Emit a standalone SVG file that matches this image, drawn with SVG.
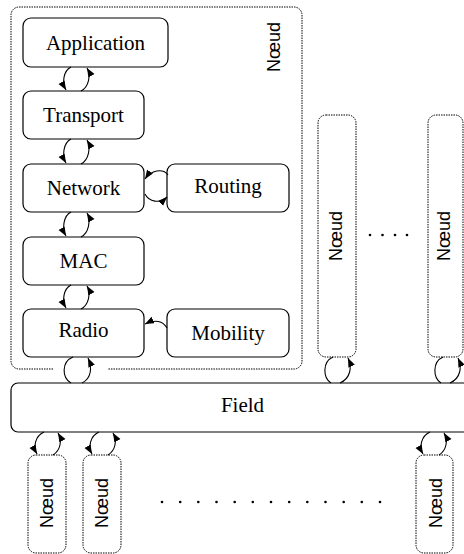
<svg xmlns="http://www.w3.org/2000/svg" width="464" height="554" viewBox="0 0 464 554">
<defs>
<marker id="ah" markerUnits="userSpaceOnUse" markerWidth="10" markerHeight="8" refX="9" refY="3.5" orient="auto">
<path d="M0,0 L9,3.5 L0,7 z" fill="#000"/>
</marker>
<style>
.box{fill:#fff;stroke:#000;stroke-width:1.2}
.dot{fill:none;stroke:#000;stroke-width:1;stroke-dasharray:1.5 1}
.lbl{font-family:'Liberation Serif','Times New Roman','DejaVu Serif',serif;font-size:21px;fill:#000;text-anchor:middle}
.nd{font-family:'Liberation Sans',Arial,sans-serif;font-size:18px;fill:#000;text-anchor:middle}
.c{fill:none;stroke:#000;stroke-width:1.1}
.a{marker-end:url(#ah)}
</style>
</defs>
<rect width="464" height="554" fill="#fff"/>

<g id="outer-node">
<path class="dot" d="M53,369 H19 A8,8 0 0 1 11,361 V15 A8,8 0 0 1 19,7 H294 A8,8 0 0 1 302,15 V361 A8,8 0 0 1 294,369 H108"/>
<text class="nd" transform="translate(280,47) rotate(-90)">Nœud</text>
</g>

<g id="application"><rect class="box" x="23" y="18" width="145" height="49" rx="8"/><text class="lbl" font-family="Liberation Serif, serif" x="95.5" y="49.5">Application</text></g>
<g id="transport"><rect class="box" x="23" y="91" width="121" height="48" rx="8"/><text class="lbl" font-family="Liberation Serif, serif" x="83.5" y="122">Transport</text></g>
<g id="network"><rect class="box" x="23" y="164" width="121" height="48" rx="8"/><text class="lbl" font-family="Liberation Serif, serif" x="83.5" y="195">Network</text></g>
<g id="routing"><rect class="box" x="167" y="164" width="122" height="48" rx="8"/><text class="lbl" font-family="Liberation Serif, serif" x="228" y="193">Routing</text></g>
<g id="mac"><rect class="box" x="23" y="237" width="121" height="48" rx="8"/><text class="lbl" font-family="Liberation Serif, serif" x="83.5" y="268">MAC</text></g>
<g id="radio"><rect class="box" x="23" y="309" width="121" height="48" rx="8"/><text class="lbl" font-family="Liberation Serif, serif" x="83.5" y="337">Radio</text></g>
<g id="mobility"><rect class="box" x="167" y="309" width="122" height="48" rx="8"/><text class="lbl" font-family="Liberation Serif, serif" x="228" y="340">Mobility</text></g>

<g id="node-r1"><rect class="dot" x="318" y="115" width="38" height="242" rx="8"/><text class="nd" transform="translate(342,236) rotate(-90)">Nœud</text></g>
<g id="node-r2"><rect class="dot" x="428" y="115" width="35" height="242" rx="8"/><text class="nd" transform="translate(450,236) rotate(-90)">Nœud</text></g>
<g id="dots-r" fill="#000"><circle cx="370" cy="235" r="1.3"/><circle cx="382.5" cy="235" r="1.3"/><circle cx="395" cy="235" r="1.3"/><circle cx="407" cy="235" r="1.3"/></g>

<g id="field"><rect class="box" x="11" y="383" width="463" height="49" rx="7"/><text class="lbl" font-family="Liberation Serif, serif" x="242.5" y="412">Field</text></g>

<g id="node-b1"><rect class="dot" x="28" y="455" width="38" height="98" rx="8"/><text class="nd" transform="translate(53,503) rotate(-90)">Nœud</text></g>
<g id="node-b2"><rect class="dot" x="83" y="455" width="38" height="98" rx="8"/><text class="nd" transform="translate(108,503) rotate(-90)">Nœud</text></g>
<g id="node-b3"><rect class="dot" x="416" y="455" width="37" height="98" rx="8"/><text class="nd" transform="translate(442,503) rotate(-90)">Nœud</text></g>
<g id="dots-b" fill="#000">
<circle cx="162" cy="502" r="1.3"/><circle cx="180.2" cy="502" r="1.3"/><circle cx="198.3" cy="502" r="1.3"/><circle cx="216.5" cy="502" r="1.3"/><circle cx="234.7" cy="502" r="1.3"/><circle cx="252.8" cy="502" r="1.3"/><circle cx="271" cy="502" r="1.3"/><circle cx="289.2" cy="502" r="1.3"/><circle cx="307.3" cy="502" r="1.3"/><circle cx="325.5" cy="502" r="1.3"/><circle cx="343.7" cy="502" r="1.3"/><circle cx="361.8" cy="502" r="1.3"/><circle cx="380" cy="502" r="1.3"/>
</g>

<g id="connectors">
<path class="c a" d="M71,67 C63,71 62,83 66,90"/>
<path class="c a" d="M81,91 C89,87 91,75 87,68"/>
<path class="c a" d="M71,139 C63,143 62,156 66,163"/>
<path class="c a" d="M81,164 C89,160 91,147 87,140"/>
<path class="c a" d="M71,212 C63,216 62,229 66,236"/>
<path class="c a" d="M81,237 C89,233 91,220 87,213"/>
<path class="c a" d="M71,285 C63,289 62,301 66,308"/>
<path class="c a" d="M81,309 C89,305 91,293 87,286"/>
<path class="c a" d="M168,175 C163,168 151,170 145,179"/>
<path class="c a" d="M145,194 C149,202 160,204 167,197"/>
<path class="c a" d="M167,328 C163,321 155,319 145,324"/>
<path class="c" d="M73,357 C61,362 62,378 71,383"/>
<path class="c a" d="M82,383 C92,378 92,367 88,358"/>
<path class="c" d="M333,357 C322,362 323,378 331,383"/>
<path class="c a" d="M340,383 C351,378 352,367 348,358"/>
<path class="c" d="M443,357 C432,362 433,378 441,383"/>
<path class="c a" d="M450,383 C461,378 462,367 458,358"/>
<path class="c a" d="M44,432 C35,436 33,447 37,454"/>
<path class="c a" d="M53,455 C61,450 62,440 58,433"/>
<path class="c a" d="M99,432 C90,436 88,447 92,454"/>
<path class="c a" d="M108,455 C116,450 117,440 113,433"/>
<path class="c a" d="M430,432 C421,436 419,447 423,454"/>
<path class="c a" d="M439,455 C447,450 448,440 444,433"/>
</g>
</svg>
